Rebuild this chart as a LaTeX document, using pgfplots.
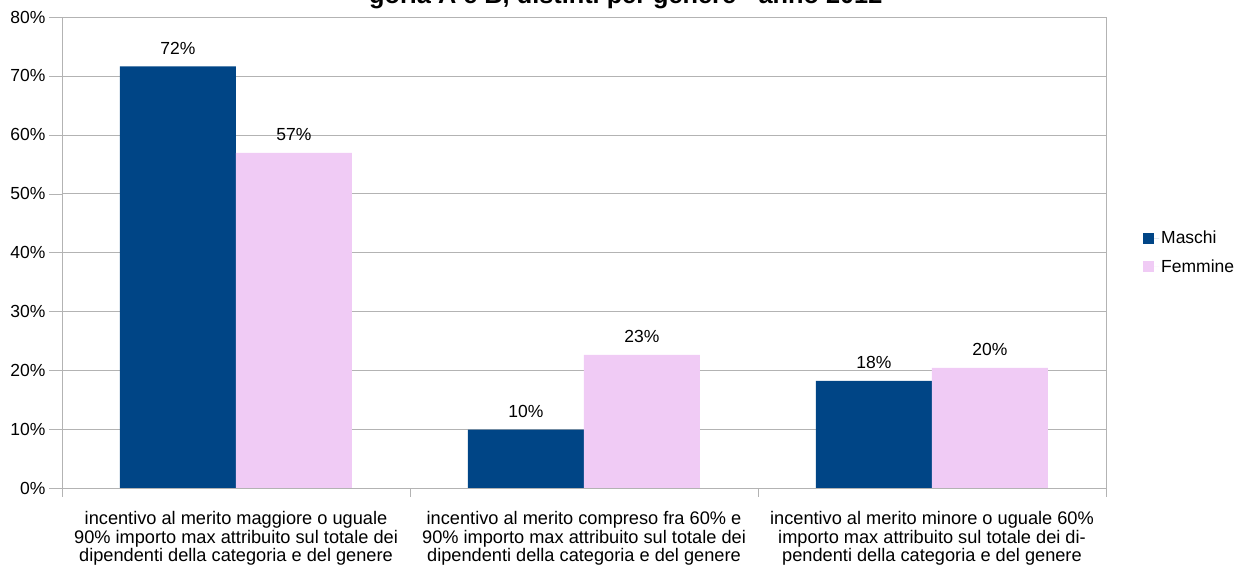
\documentclass[border=0pt]{standalone}
\usepackage{pgfplots}
\pgfplotsset{compat=1.18}
\usepackage{fontspec}
\setmainfont{Liberation Sans}
\definecolor{masc}{HTML}{004586}
\definecolor{femm}{HTML}{F0CBF5}
\definecolor{gridc}{HTML}{B3B3B3}
\begin{document}
\begin{tikzpicture}
\useasboundingbox (0,0) rectangle (1236pt,567pt);
\node[anchor=base west, inner sep=0pt, font=\bfseries\fontsize{25.3}{30}\selectfont] at (369pt,563.5pt) {goria A e B, distinti per genere - anno 2012};
\begin{axis}[
  at={(62pt,79pt)}, anchor=south west,
  scale only axis, width=1044pt, height=471pt,
  /pgf/number format/assume math mode=true,
  ybar=0pt, bar width=116pt,
  xmin=-0.5, xmax=2.5, ymin=0, ymax=80,
  axis line style={draw=gridc},
  tick style={draw=gridc},
  tick align=outside,
  major tick length=13pt,
  xtick={-0.5,0.5,1.5,2.5},
  xticklabels={},
  xtick style={/pgfplots/major tick length=9pt},
  extra x ticks={0,1,2},
  extra x tick labels={incentivo al merito maggiore o uguale\\90\% importo max attribuito sul totale dei\\dipendenti della categoria e del genere,
    incentivo al merito compreso fra 60\% e\\90\% importo max attribuito sul totale dei\\dipendenti della categoria e del genere,
    incentivo al merito minore o uguale 60\%\\importo max attribuito sul totale dei di-\\pendenti della categoria e del genere},
  extra x tick style={grid=none, tick style={draw=none}, xtick style={draw=none, /pgfplots/major tick length=0pt}},
  xtick pos=bottom, ytick pos=left,
  x tick label style={align=center, font=\fontsize{18.2}{18.8}\selectfont, yshift=-6.5pt},
  ytick={0,10,...,80},
  yticklabel={\pgfmathprintnumber{\tick}\%},
  y tick label style={font=\fontsize{17.5}{20}\selectfont},
  ymajorgrids, grid style={draw=gridc},
  nodes near coords={\pgfmathprintnumber[fixed,precision=0]{\pgfplotspointmeta}\%},
  every node near coord/.append style={font=\fontsize{17.5}{20}\selectfont, inner sep=0pt, anchor=base, yshift=12pt, text=black},
  legend style={at={(1,0.5)}, anchor=west, xshift=34pt, draw=none, font=\fontsize{17.5}{20}\selectfont, row sep=10pt},
  legend cell align=left,
  legend image code/.code={\fill[#1] (0pt,-5.5pt) rectangle (11pt,5.5pt); \path (0pt,0pt) -- (16pt,0pt);},
]
\addplot[fill=masc, draw=none] coordinates {(0,71.6) (1,9.9) (2,18.2)};
\addplot[fill=femm, draw=none] coordinates {(0,56.9) (1,22.6) (2,20.4)};
\legend{Maschi, Femmine}
\end{axis}
\end{tikzpicture}
\end{document}
